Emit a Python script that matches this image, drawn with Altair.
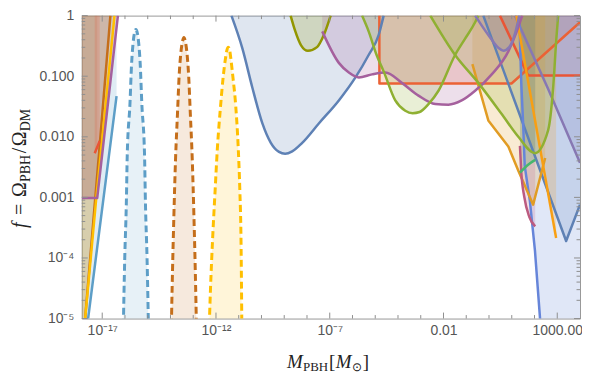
import altair as alt
import pandas as pd

# ---------------- data (log10 M/Msun , log10 f) ----------------
# evaporation constraints (left)
band_lm = [-17.90, -17.22]
band_lf = [-3.00, -3.00]
evap_orange_lm = [-17.90, -17.75, -17.14, -16.64]
evap_orange_lf = [-5.60, -5.00, -2.27, 0.00]
evap_yellow_lm = [-17.90, -17.75, -17.27, -16.46]
evap_yellow_lf = [-5.60, -5.00, -3.05, 0.00]
evap_blue_lm = [-17.90, -17.62, -16.37]
evap_blue_lf = [-5.90, -5.00, -1.33]
evap_purple_lm = [-17.90, -17.22, -16.31]
evap_purple_lf = [-3.01, -3.01, 0.00]
evap_red_lm = [-17.33, -17.11]
evap_red_lf = [-2.27, -2.07]

# microlensing / dynamical / accretion constraints
hsc_lm = [-11.32, -10.84, -10.40, -9.96, -9.59, -9.23, -8.96, -8.65, -8.21, -7.48, -6.60, -5.87, -5.29, -4.85, -4.63]
hsc_lf = [0.00, -0.54, -1.19, -1.78, -2.10, -2.25, -2.28, -2.24, -2.10, -1.78, -1.40, -1.02, -0.65, -0.32, 0.00]
olive_lm = [-8.72, -8.53, -8.26, -7.96, -7.56, -7.26, -6.96]
olive_lf = [0.00, -0.24, -0.49, -0.58, -0.52, -0.32, 0.00]
purple_lm = [-7.33, -6.60, -6.16, -5.72, -5.14, -4.55, -3.83, -3.10, -2.36, -1.78, -1.20, -0.61, 0.12, 0.85, 1.21, 1.46]
purple_lf = [-0.26, -0.78, -0.94, -1.02, -0.97, -0.94, -1.11, -1.32, -1.46, -1.47, -1.40, -1.24, -0.97, -0.59, -0.27, 0.00]
green1_lm = [-5.58, -5.29, -4.94, -4.63, -4.12, -3.68, -3.36, -3.05, -2.66, -2.22, -1.49, -1.05, -0.61, -0.47]
green1_lf = [0.00, -0.26, -0.65, -0.92, -1.40, -1.57, -1.61, -1.59, -1.46, -1.24, -0.65, -0.38, -0.11, 0.00]
green2_lm = [-2.58, -1.49, -0.47, 0.55, 1.29, 2.02, 2.60, 2.82, 2.96, 3.04]
green2_lf = [0.00, -0.65, -1.11, -1.62, -2.00, -2.27, -1.89, -1.19, -0.38, 0.00]
slate1_lm = [-0.61, -0.03, 0.41, 0.63, 0.89, 1.15, 1.33]
slate1_lf = [0.00, -0.32, -0.53, -0.58, -0.52, -0.29, 0.00]
crimson_lm = [1.36, 1.42, 1.55, 1.77, 2.03]
crimson_lf = [-2.15, -2.59, -2.99, -3.32, -3.48]
emerald_lm = [1.36, 1.72, 2.03]
emerald_lf = [-2.59, -2.46, -2.38]

red1_lm = [-4.820, -4.816, 0.99, 4.00]
red1_lf = [0.00, -1.12, -1.12, -0.11]
red2_lm = [0.48, 1.72, 4.00]
red2_lf = [0.00, -0.99, -0.99]
slate2_lm = [1.14, 2.60, 4.00]
slate2_lf = [0.00, -1.21, -2.43]
blue2_lm = [-0.25, 3.39, 4.00]
blue2_lf = [0.00, -3.72, -3.12]
cornflower_lm = [1.33, 1.42, 1.50, 1.57, 1.80, 2.02, 2.24, 2.31, 4.00]
cornflower_lf = [0.00, -1.13, -1.78, -2.48, -3.07, -3.88, -4.98, -6.00, -6.00]
orange1_lm = [-0.73, -0.03, 0.85, 1.29, 1.94, 2.47]
orange1_lf = [-0.80, -1.73, -2.16, -2.56, -3.12, -2.35]
orange2_lm = [1.20, 2.95]
orange2_lf = [0.00, -3.67]

# projected PBH mass functions (dashed bumps)
bump_blue_lm = [-16.08, -16.01, -15.94, -15.90, -15.78, -15.71, -15.65, -15.59, -15.52, -15.45, -15.39, -15.33, -15.26, -15.14, -15.10, -15.03, -14.96]
bump_blue_lf = [-5.3, -4.0, -3.1, -2.3, -1.45, -0.8, -0.48, -0.30, -0.23, -0.30, -0.48, -0.8, -1.45, -2.3, -3.1, -4.0, -5.3]
bump_orange_lm = [-13.97, -13.91, -13.85, -13.78, -13.69, -13.62, -13.54, -13.47, -13.41, -13.35, -13.28, -13.20, -13.13, -13.04, -12.97, -12.91, -12.85]
bump_orange_lf = [-5.3, -4.2, -3.3, -2.4, -1.6, -1.0, -0.6, -0.42, -0.36, -0.42, -0.6, -1.0, -1.6, -2.4, -3.3, -4.2, -5.3]
bump_yellow_lm = [-12.31, -12.24, -12.15, -12.04, -11.94, -11.80, -11.68, -11.58, -11.52, -11.46, -11.40, -11.35, -11.26, -11.13, -11.02, -10.95, -10.90, -10.86]
bump_yellow_lf = [-5.3, -4.5, -3.7, -2.9, -2.2, -1.5, -1.0, -0.7, -0.57, -0.52, -0.57, -0.7, -1.0, -1.5, -2.2, -2.9, -3.7, -5.3]

# ticks and labels
x_label_log = [-17, -12, -7, -2, 3]
x_label_txt = ["10\u207b\u00b9\u2077", "10\u207b\u00b9\u00b2", "10\u207b\u2077", "0.01", "1000.00"]
x_minor_log = [-16, -15, -14, -13, -11, -10, -9, -8, -6, -5, -4, -3, -1, 0, 1, 2]
y_label_log = [-5, -4, -3, -2, -1, 0]
y_label_txt = ["10\u207b\u2075", "10\u207b\u2074", "0.001", "0.010", "0.100", "1"]
y_minor_mult = [2, 3, 4, 5, 6, 7, 8, 9]
y_minor_dec = [-5, -4, -3, -2, -1]

# ---------------- styles ----------------
linear_curves = [
    ("band", band_lm, band_lf, "#C56E1A"),
    ("evap_orange", evap_orange_lm, evap_orange_lf, "#C56E1A"),
    ("evap_yellow", evap_yellow_lm, evap_yellow_lf, "#FFBF00"),
    ("evap_blue", evap_blue_lm, evap_blue_lf, "#5D9EC7"),
    ("evap_purple", evap_purple_lm, evap_purple_lf, "#A5609D"),
    ("evap_red", evap_red_lm, evap_red_lf, "#E95536"),
    ("red1", red1_lm, red1_lf, "#EB6235"),
    ("red2", red2_lm, red2_lf, "#E95536"),
    ("slate2", slate2_lm, slate2_lf, "#8778B3"),
    ("blue2", blue2_lm, blue2_lf, "#5E81B5"),
    ("cornflower", cornflower_lm, cornflower_lf, "#6685D9"),
    ("orange1", orange1_lm, orange1_lf, "#E19C24"),
    ("orange2", orange2_lm, orange2_lf, "#F89F13"),
]
smooth_curves = [
    ("hsc", hsc_lm, hsc_lf, "#5E81B5"),
    ("olive", olive_lm, olive_lf, "#929600"),
    ("purple", purple_lm, purple_lf, "#A5609D"),
    ("green1", green1_lm, green1_lf, "#8FB032"),
    ("green2", green2_lm, green2_lf, "#8FB032"),
    ("slate1", slate1_lm, slate1_lf, "#8778B3"),
    ("crimson", crimson_lm, crimson_lf, "#BC5B80"),
    ("emerald", emerald_lm, emerald_lf, "#47B66D"),
]
bump_curves = [
    ("bump_blue", bump_blue_lm, bump_blue_lf, "#5D9EC7"),
    ("bump_orange", bump_orange_lm, bump_orange_lf, "#C56E1A"),
    ("bump_yellow", bump_yellow_lm, bump_yellow_lf, "#FFBF00"),
]


def build(curves):
    rows = []
    for cid, lm, lf, _ in curves:
        for i, (a, b) in enumerate(zip(lm, lf)):
            rows.append({"id": cid, "i": i, "M": 10.0 ** a, "f": 10.0 ** b,
                         "ftop": 1.0, "fbot": 1e-6})
    return pd.DataFrame(rows)


all_curves = linear_curves + smooth_curves + bump_curves
color_scale = alt.Scale(domain=[c[0] for c in all_curves], range=[c[3] for c in all_curves])
COLOR = alt.Color("id:N", scale=color_scale, legend=None)


def label_expr(vals, txts):
    expr = "''"
    for v, t in reversed(list(zip(vals, txts))):
        expr = f"(abs(log(datum.value)/LN10 - ({v})) < 0.01) ? '{t}' : ({expr})"
    return expr


LABEL_FONT = "Liberation Sans"
LABEL_COLOR = "#555555"
x_axis = alt.Axis(values=[10.0 ** v for v in x_label_log], labelExpr=label_expr(x_label_log, x_label_txt),
                  ticks=False, domain=False, grid=False, title=None, labelPadding=5,
                  labelFontSize=14, labelFont=LABEL_FONT, labelColor=LABEL_COLOR,
                  labelOverlap=False, labelFlush=False, labelBaseline="top")
y_axis = alt.Axis(values=[10.0 ** v for v in y_label_log], labelExpr=label_expr(y_label_log, y_label_txt),
                  ticks=False, domain=False, grid=False, title=None, labelPadding=8,
                  labelFontSize=14, labelFont=LABEL_FONT, labelColor=LABEL_COLOR,
                  labelOverlap=False, labelFlush=False, labelBaseline="middle")

xscale = alt.Scale(type="log", domain=[10.0 ** -17.9, 1e4], nice=False)
yscale = alt.Scale(type="log", domain=[1e-5, 1.0], nice=False)
X = alt.X("M:Q", scale=xscale, axis=x_axis)
Y = alt.Y("f:Q", scale=yscale, axis=y_axis)
ORDER = alt.Order("i:Q")

df_lin = build(linear_curves)
df_smooth = build(smooth_curves)
df_bump = build(bump_curves)

fill_lin = alt.Chart(df_lin).mark_area(opacity=0.2, clip=True, interpolate="linear").encode(
    x=X, y=Y, y2="ftop", color=COLOR, detail="id:N")
fill_smooth = alt.Chart(df_smooth).mark_area(opacity=0.2, clip=True, interpolate="monotone").encode(
    x=X, y=Y, y2="ftop", color=COLOR, detail="id:N")
fill_bump = alt.Chart(df_bump).mark_area(opacity=0.15, clip=True, interpolate="monotone").encode(
    x=X, y=Y, y2="fbot", color=COLOR, detail="id:N")

line_lin = alt.Chart(df_lin[df_lin["id"] != "band"]).mark_line(
    strokeWidth=2.5, clip=True, interpolate="linear", strokeJoin="round").encode(
    x=X, y=Y, color=COLOR, order=ORDER)
line_smooth = alt.Chart(df_smooth).mark_line(
    strokeWidth=2.5, clip=True, interpolate="monotone", strokeJoin="round").encode(
    x=X, y=Y, color=COLOR, order=ORDER)
line_bump = alt.Chart(df_bump).mark_line(
    strokeWidth=3, clip=True, interpolate="monotone", strokeDash=[7, 4]).encode(
    x=X, y=Y, color=COLOR, order=ORDER)

TOP = 15  # page y of plot top
W, H = 500, 319 - TOP
TICK = "#8f8f8f"
xt_major = pd.DataFrame({"M": [10.0 ** v for v in x_label_log]})
xt_minor = pd.DataFrame({"M": [10.0 ** v for v in x_minor_log]})
yt_major = pd.DataFrame({"f": [10.0 ** v for v in y_label_log]})
yt_minor = pd.DataFrame({"f": [m * 10.0 ** d for d in y_minor_dec for m in y_minor_mult]})

tick_layers = []
for df_t, ln in ((xt_major, 6), (xt_minor, 3.5)):
    tick_layers.append(alt.Chart(df_t).mark_rule(color=TICK, strokeWidth=1).encode(
        x=X, y=alt.value(H), y2=alt.value(H - ln)))
    tick_layers.append(alt.Chart(df_t).mark_rule(color=TICK, strokeWidth=1).encode(
        x=X, y=alt.value(0), y2=alt.value(ln)))
for df_t, ln in ((yt_major, 6), (yt_minor, 3.5)):
    tick_layers.append(alt.Chart(df_t).mark_rule(color=TICK, strokeWidth=1).encode(
        y=Y, x=alt.value(0), x2=alt.value(ln)))
    tick_layers.append(alt.Chart(df_t).mark_rule(color=TICK, strokeWidth=1).encode(
        y=Y, x=alt.value(W), x2=alt.value(W - ln)))

# ---------------- axis titles (math-style text) ----------------
one = pd.DataFrame({"k": [0]})
SERIF = "Liberation Serif"
TCOL = "#222222"


def piece(txt, px, py, size, italic=False, angle=0):
    kw = dict(text=txt, font=SERIF, fontSize=size, color=TCOL, align="left", baseline="alphabetic")
    if italic:
        kw["fontStyle"] = "italic"
    if angle:
        kw["angle"] = angle
    return alt.Chart(one).mark_text(**kw).encode(x=alt.value(px - 82), y=alt.value(py - TOP))


titles = [
    # y title (rotated, reads bottom to top)
    piece("f", 26, 228, 20, italic=True, angle=270),
    piece("=", 26, 215, 20, angle=270),
    piece("\u03a9", 26, 197, 20, angle=270),
    piece("PBH", 30, 182, 14, angle=270),
    piece("/", 26, 153, 20, angle=270),
    piece("\u03a9", 26, 146, 20, angle=270),
    piece("DM", 30, 131, 14, angle=270),
    # x title
    piece("M", 288, 369, 19, italic=True),
    piece("PBH", 304, 372, 13),
    piece("[", 330, 369, 19),
    piece("M", 337, 369, 19, italic=True),
    piece("\u2299", 353, 372, 12),
    piece("]", 364, 369, 19),
]

chart = alt.layer(
    fill_lin, fill_smooth, fill_bump, line_lin, line_smooth, line_bump, *tick_layers, *titles
).properties(
    width=W, height=H,
    autosize=alt.AutoSizeParams(type="none"),
    padding={"left": 74, "top": TOP - 8, "right": 2, "bottom": 58},
).configure_view(stroke="#999999", strokeWidth=1)

chart.save("out.html", embed_options={"renderer": "svg", "actions": False})
